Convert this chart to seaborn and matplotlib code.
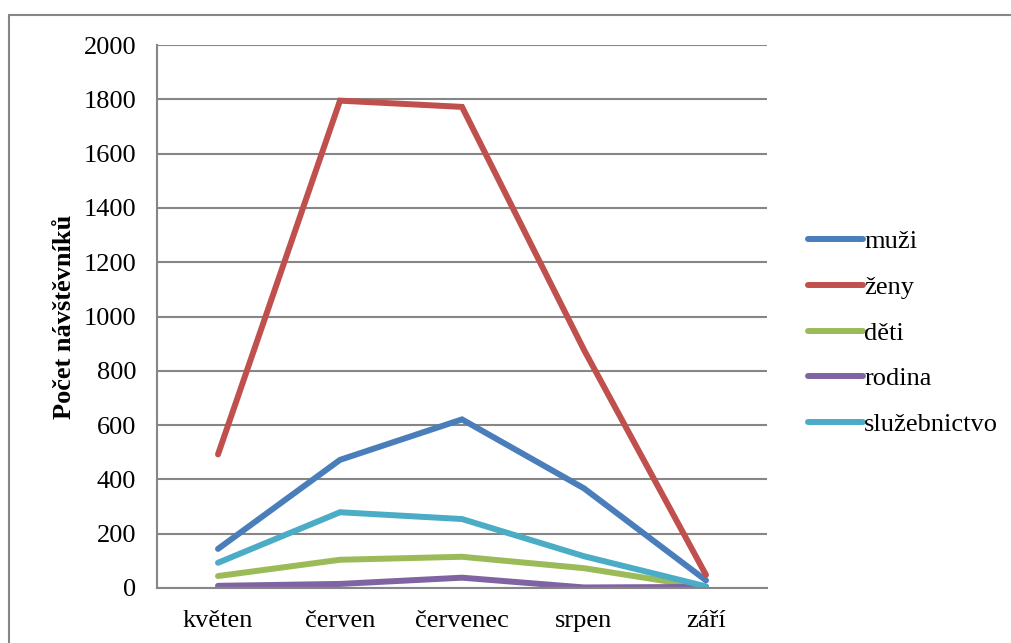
import matplotlib
matplotlib.use("Agg")
import matplotlib.pyplot as plt
import seaborn as sns
import pandas as pd
from matplotlib.patches import Rectangle

months = ["květen", "červen", "červenec", "srpen", "září"]
muzi = [144, 472, 621, 367, 28]
zeny = [492, 1795, 1772, 877, 48]
deti = [44, 104, 115, 73, 2]
rodina = [8, 15, 38, 2, 4]
sluzebnictvo = [93, 279, 254, 117, 6]
series_names = ["muži", "ženy", "děti", "rodina", "služebnictvo"]
colors = ["#4A7EBB", "#C0504D", "#9BBB59", "#8064A2", "#4BACC6"]
y_ticks = [0, 200, 400, 600, 800, 1000, 1200, 1400, 1600, 1800, 2000]

rows = []
for name, vals in zip(series_names, [muzi, zeny, deti, rodina, sluzebnictvo]):
    for m, v in zip(months, vals):
        rows.append({"měsíc": m, "počet": v, "skupina": name})
df = pd.DataFrame(rows)

sns.set_style("white")
plt.rcParams["font.family"] = ["Liberation Serif", "DejaVu Serif"]
plt.rcParams["text.color"] = "black"

fig = plt.figure(figsize=(10.11, 6.43), dpi=100)
W, H = 1011, 643
left, right, top, bottom = 157, 767, 45, 588
ax = fig.add_axes([left / W, 1 - bottom / H, (right - left) / W, (bottom - top) / H])

# outer chart frame
fig.patches.append(Rectangle((9 / W, -0.1), 1.2, 1 - 15 / H + 0.1,
                             transform=fig.transFigure, fill=False,
                             edgecolor="#868686", linewidth=1.5))

sns.lineplot(data=df, x="měsíc", y="počet", hue="skupina", palette=colors,
             hue_order=series_names, sort=False, linewidth=4.3, ax=ax,
             legend=True)
for line in ax.lines:
    line.set_solid_capstyle("round")
    line.set_solid_joinstyle("miter")

ax.set_xlim(-0.5, 4.5)
ax.set_ylim(0, 2000)
ax.set_yticks(y_ticks)
ax.set_yticklabels([str(t) for t in y_ticks])
ax.yaxis.grid(True, color="#868686", linewidth=1.5)
ax.set_axisbelow(True)
for s in ["top", "right"]:
    ax.spines[s].set_visible(False)
for s in ["left", "bottom"]:
    ax.spines[s].set_color("#868686")
    ax.spines[s].set_linewidth(1.5)
ax.tick_params(axis="both", length=0, labelsize=19, colors="black")
ax.tick_params(axis="y", pad=15)
ax.tick_params(axis="x", pad=16)
ax.set_xlabel("")
ax.set_ylabel("Počet návštěvníků", fontsize=19, fontweight="bold", labelpad=5,
              color="black")

handles, labels = ax.get_legend_handles_labels()
leg = ax.legend(handles, labels, loc="center left",
                bbox_to_anchor=((797 - left) / (right - left), (bottom - 333) / (bottom - top)),
                frameon=False, fontsize=19, handlelength=2.1, handletextpad=0.05,
                labelspacing=0.84, borderaxespad=0, labelcolor="black")
for lh in leg.get_lines():
    lh.set_linewidth(4.3)
    lh.set_solid_capstyle("round")

fig.savefig("out.png", dpi=100)
